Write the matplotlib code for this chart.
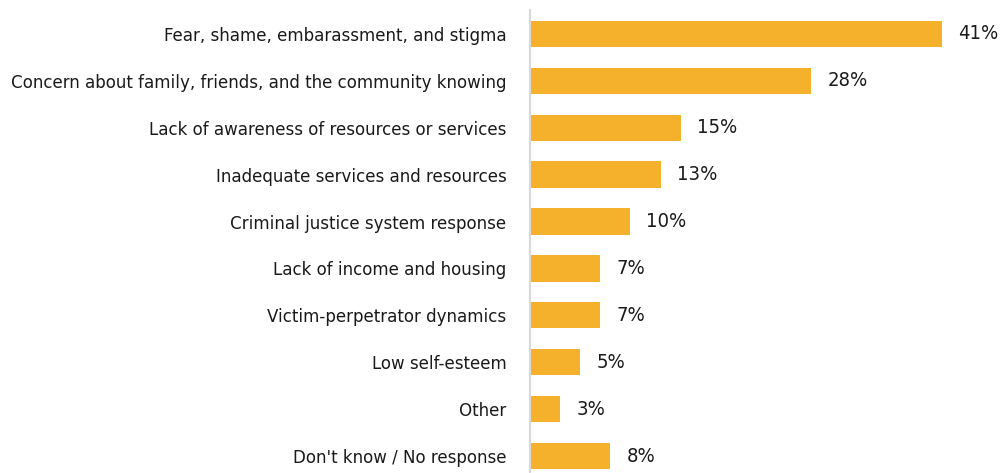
import matplotlib
matplotlib.use("Agg")
import matplotlib.pyplot as plt

plt.rcParams["font.family"] = ["DejaVu Sans"]
plt.rcParams["font.stretch"] = "condensed"

# data
categories = [
    "Fear, shame, embarassment, and stigma",
    "Concern about family, friends, and the community knowing",
    "Lack of awareness of resources or services",
    "Inadequate services and resources",
    "Criminal justice system response",
    "Lack of income and housing",
    "Victim-perpetrator dynamics",
    "Low self-esteem",
    "Other",
    "Don't know / No response",
]
values = [41, 28, 15, 13, 10, 7, 7, 5, 3, 8]

BAR_COLOR = "#F5B12B"
TEXT_COLOR = "#1a1a1a"

fig = plt.figure(figsize=(10, 4.73), dpi=100)
ax = fig.add_axes([0.530, 0.0, 0.470, 0.979])

y = list(range(len(categories)))
ax.barh(y, values, height=0.56, color=BAR_COLOR, zorder=2)

for yi, v in zip(y, values):
    ax.text(v + 1.6, yi, f"{v}%", va="center", ha="left",
            fontsize=14.5, color=TEXT_COLOR)

ax.set_yticks(y)
ax.set_yticklabels(categories, fontsize=13.3, color=TEXT_COLOR)
ax.tick_params(axis="y", length=0, pad=17)
ax.set_xticks([])
ax.set_xlim(0, 46.8)
ax.set_ylim(9.36, -0.51)

for s in ["top", "right", "bottom"]:
    ax.spines[s].set_visible(False)
ax.spines["left"].set_color("#d9d9d9")
ax.spines["left"].set_linewidth(1.5)

fig.savefig("out.png", dpi=100)
